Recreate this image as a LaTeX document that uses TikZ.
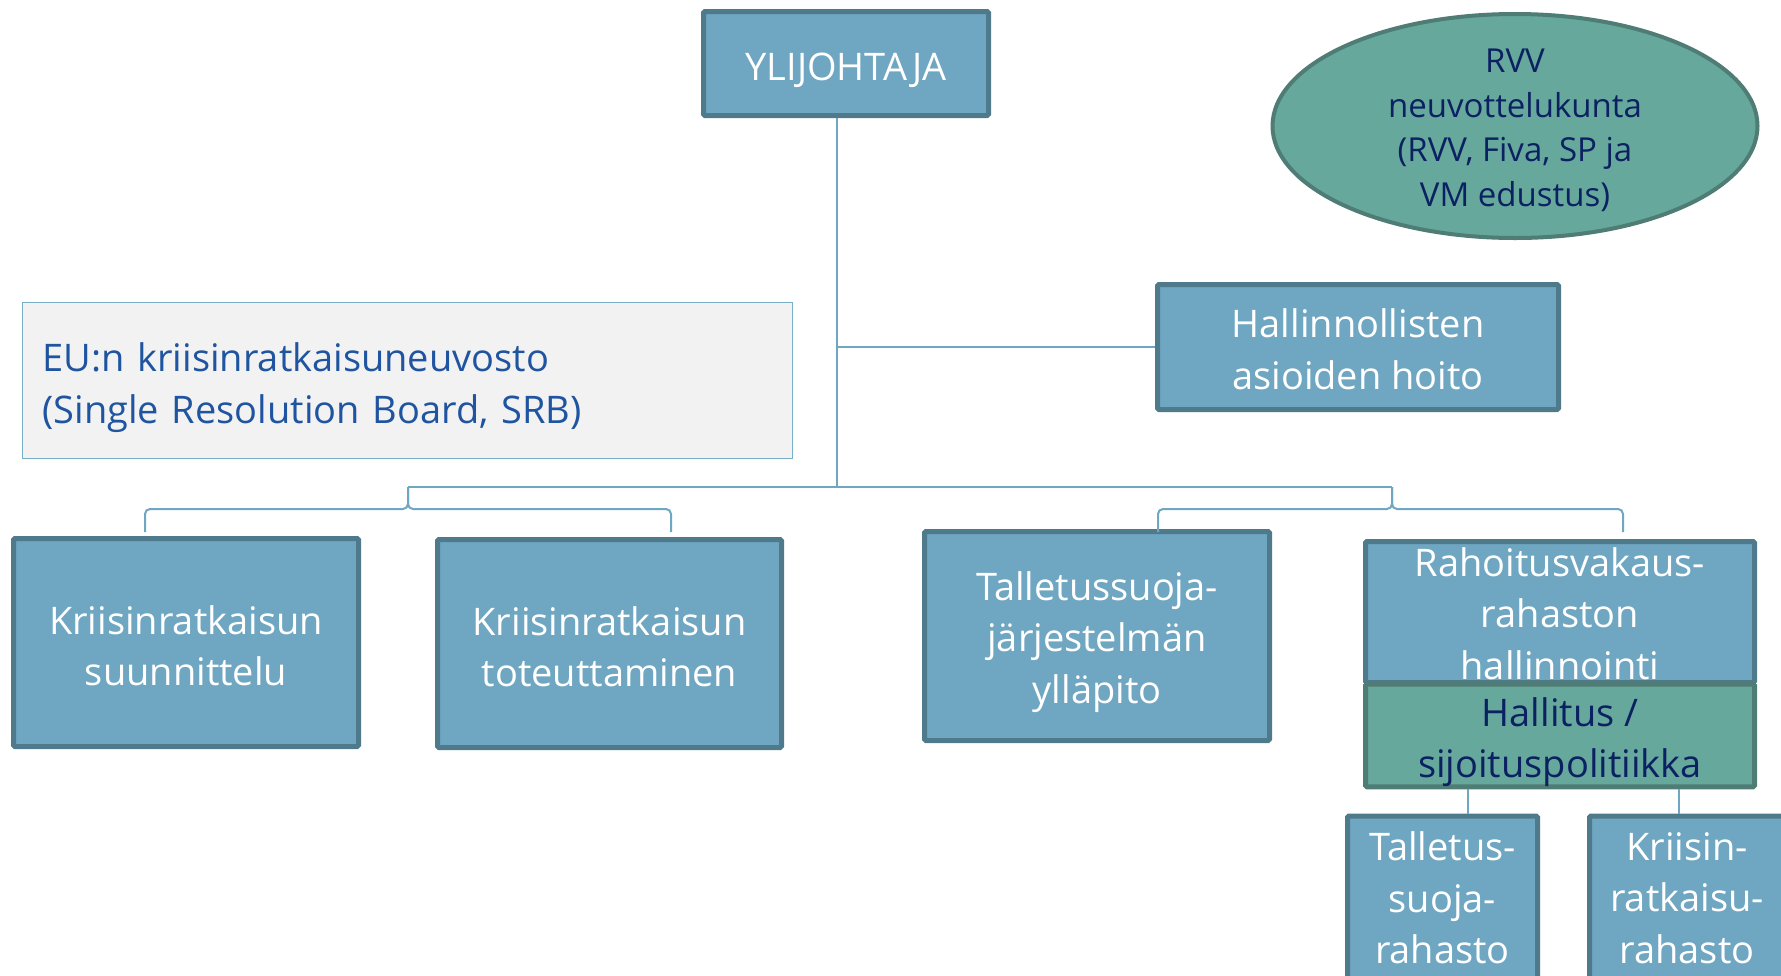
\documentclass[tikz,border=0pt]{standalone}
\usepackage{fontspec}
\setmainfont{Open Sans}
\usetikzlibrary{shapes.geometric}
\definecolor{boxfill}{HTML}{6FA6C1}
\definecolor{boxline}{HTML}{4F7A8B}
\definecolor{greenfill}{HTML}{67A89C}
\definecolor{greenline}{HTML}{4F7C74}
\definecolor{navy}{HTML}{0B2161}
\definecolor{eutext}{HTML}{1F55A0}
\definecolor{euline}{HTML}{7AAFC8}
\definecolor{eufill}{HTML}{F2F2F2}
\definecolor{linkcol}{HTML}{6FA6C1}
\newcommand\dn[1]{\rule{0pt}{#1pt}}
\begin{document}
\begin{tikzpicture}[x=1pt,y=-1pt,
  bluebox/.style={draw=boxline, line width=5pt, fill=boxfill, text=white, align=center,
    inner sep=0pt, font=\fontsize{38}{51.5}\selectfont, rounded corners=1.5pt},
  greenbox/.style={draw=greenline, line width=5pt, fill=greenfill, text=navy, align=center,
    inner sep=0pt, font=\fontsize{38}{51.5}\selectfont, rounded corners=1.5pt},
  link/.style={draw=linkcol, line width=2pt},
  brace/.style={draw=linkcol, line width=2pt, rounded corners=5pt}]
\useasboundingbox (0,0) rectangle (1781,975);
\clip (0,0) rectangle (1781,975);

% top
\node[bluebox, minimum width=285pt, minimum height=104pt] (ylij) at (846,63.5) {\dn{41}YLIJOHTAJA};
\node[ellipse, draw=greenline, line width=4pt, fill=greenfill, text=navy, align=center,
  inner sep=-40pt, minimum width=485pt, minimum height=224pt,
  font=\fontsize{33}{44.5}\selectfont] (rvv) at (1515,126)
  {\dn{32.6}RVV\\neuvottelukunta\\(RVV, Fiva, SP ja\\VM edustus)};
\node[bluebox, minimum width=401pt, minimum height=125pt] (hall) at (1358,347)
  {\dn{33}Hallinnollisten\\asioiden hoito};
\node[draw=euline, line width=1.5pt, fill=eufill, text=eutext, align=left,
  minimum width=770pt, minimum height=156pt, text width=730pt, inner sep=0pt,
  font=\fontsize{38}{52}\selectfont] (eu) at (407.5,380.5)
  {\dn{43}EU:n kriisinratkaisuneuvosto\\(Single Resolution Board, SRB)};

% bottom row
\node[bluebox, minimum width=345pt, minimum height=208pt] (suun) at (186,642.5)
  {\dn{35}Kriisinratkaisun\\suunnittelu};
\node[bluebox, minimum width=344pt, minimum height=208pt] (tot) at (609.5,643.5)
  {\dn{35}Kriisinratkaisun\\toteuttaminen};
\node[bluebox, minimum width=345pt, minimum height=209pt] (tal) at (1097,636)
  {\dn{41}Talletussuoja-\\järjestelmän\\ylläpito};
\node[bluebox, minimum width=389pt, minimum height=141pt] (rah) at (1560,612)
  {\dn{32}Rahoitusvakaus-\\rahaston\\hallinnointi};
\node[greenbox, minimum width=389pt, minimum height=100pt] (halli) at (1560,735.5)
  {\dn{42}Hallitus /\\sijoituspolitiikka};
\node[bluebox, minimum width=190pt, minimum height=164pt] (tsr) at (1442.5,898)
  {Talletus-\\suoja-\\rahasto};
\node[bluebox, minimum width=195pt, minimum height=164pt] (krr) at (1687,898)
  {Kriisin-\\ratkaisu-\\rahasto};

% connectors
\coordinate (j) at (837,487);
\coordinate (bl) at (408,487);
\coordinate (br) at (1392,487);
\coordinate (a1) at (145,532);
\coordinate (a2) at (671,532);
\coordinate (a3) at (1158,532);
\coordinate (a4) at (1623,532);
\coordinate (f1) at (1468,0);
\coordinate (f2) at (1679,0);

\draw[link] (j |- ylij.south) -- (j);
\draw[link] (j |- hall.west) -- (hall.west);
\draw[link] (bl) -- (br);
\draw[brace] (a1) -- (a1 |- 0,509) -- (bl |- 0,509) -- (bl);
\draw[brace] (a2) -- (a2 |- 0,509) -- (bl |- 0,509) -- (bl);
\draw[brace] (a3) -- (a3 |- 0,509) -- (br |- 0,509) -- (br);
\draw[brace] (a4) -- (a4 |- 0,509) -- (br |- 0,509) -- (br);
\draw[link] (f1 |- halli.south) -- (f1 |- tsr.north);
\draw[link] (f2 |- halli.south) -- (f2 |- krr.north);
\end{tikzpicture}
\end{document}
